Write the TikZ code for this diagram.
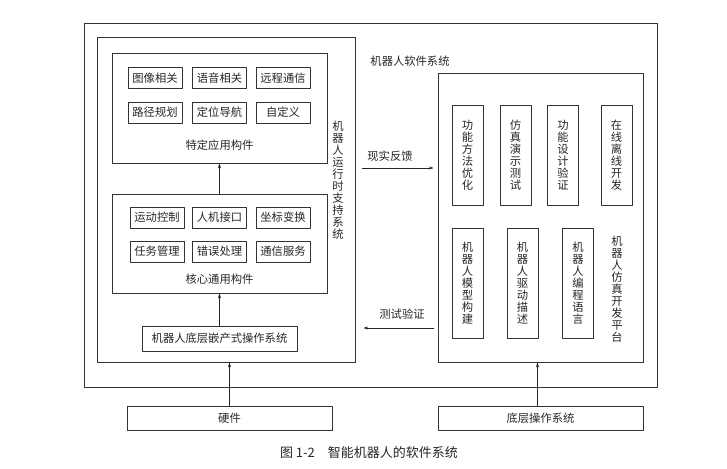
\documentclass[tikz,border=0pt]{standalone}
\usepackage{fontspec}
\newfontfamily\cjk{Noto Sans CJK SC}
\usetikzlibrary{arrows.meta}
\tikzset{
  every picture/.style={line join=round, >={Stealth[length=5pt,width=3pt]}},
  box/.style={draw=black!80, line width=0.6pt, inner sep=0pt},
  lbl/.style={font=\cjk\fontsize{11.3}{12}\selectfont, text=black!85},
  cell/.style={box, lbl, minimum width=54pt, minimum height=21pt},
  upcell/.style={box, lbl, align=center, minimum width=31pt, minimum height=100pt},
  lowcell/.style={box, lbl, align=center, minimum width=31pt, minimum height=110pt},
  base/.style={box, lbl, minimum width=205pt, minimum height=24pt},
  link/.style={->, draw=black!85, line width=0.6pt},
}

\begin{document}
\begin{tikzpicture}[x=1pt,y=-1pt]
\useasboundingbox (0,0) rectangle (727,468);
% software system
\node[box, minimum width=573pt, minimum height=364pt] (sys) at (370.5,205) {};
\node[lbl] (syslbl) at (410,61) {机器人软件系统};
% runtime support
\node[box, minimum width=258pt, minimum height=325pt] (runtime) at (226,199.5) {};
\node[lbl, align=center] (rtlbl) at (338,180) {机\\器\\人\\运\\行\\时\\支\\持\\系\\统};
\node[box, minimum width=215pt, minimum height=110pt] (spec) at (219.5,108) {};
\node[cell] (image) at (155,78) {图像相关};
\node[cell] (voice) at (219.5,78) {语音相关};
\node[cell] (remote) at (283,78) {远程通信};
\node[cell] (path) at (155,112.5) {路径规划};
\node[cell] (locate) at (219.5,112.5) {定位导航};
\node[cell] (custom) at (283,112.5) {自定义};
\node[lbl] (speclbl) at (219.5,145) {特定应用构件};
\node[box, minimum width=215pt, minimum height=99pt] (core) at (219.5,243.5) {};
\node[cell] (motion) at (157,217.5) {运动控制};
\node[cell] (hmi) at (219.5,217.5) {人机接口};
\node[cell] (coord) at (283,217.5) {坐标变换};
\node[cell] (task) at (157,251.5) {任务管理};
\node[cell] (error) at (219.5,251.5) {错误处理};
\node[cell] (comm) at (283,251.5) {通信服务};
\node[lbl] (corelbl) at (219.5,279) {核心通用构件};
\node[box, lbl, minimum width=155pt, minimum height=25pt] (os) at (219.5,338.5) {机器人底层嵌产式操作系统};
\draw[link] (core.north) -- (spec.south);
\draw[link] (os.north) -- (core.south);
% simulation platform
\node[box, minimum width=205pt, minimum height=289pt] (platform) at (540.5,217.5) {};
\node[upcell] (optim) at (467.5,155) {功\\能\\方\\法\\优\\化};
\node[upcell] (demo) at (515.5,155) {仿\\真\\演\\示\\测\\试};
\node[upcell] (verify) at (563,155) {功\\能\\设\\计\\验\\证};
\node[upcell] (online) at (616.5,155) {在\\线\\离\\线\\开\\发};
\node[lowcell] (model) at (467.5,283) {机\\器\\人\\模\\型\\构\\建};
\node[lowcell] (drive) at (522.5,283) {机\\器\\人\\驱\\动\\描\\述};
\node[lowcell] (lang) at (578,283) {机\\器\\人\\编\\程\\语\\言};
\node[lbl, align=center] (platlbl) at (617,289) {机\\器\\人\\仿\\真\\开\\发\\平\\台};
% between the two
\coordinate (fb) at (0,168);
\coordinate (tv) at (0,328);
\draw[link] ([xshift=7pt]runtime.east |- fb) -- ([xshift=-4pt]platform.west |- fb);
\node[lbl] (fblbl) at (390,156) {现实反馈};
\draw[link] ([xshift=-4pt]platform.west |- tv) -- ([xshift=8pt]runtime.east |- tv);
\node[lbl] (tvlbl) at (402,314) {测试验证};
% below
\node[base] (hw) at (229.5,418) {硬件};
\node[base] (bos) at (540.5,418.5) {底层操作系统};
\draw[link] (hw.north) -- (hw.north |- runtime.south);
\draw[link] ([xshift=-3pt]bos.north) -- ([xshift=-3pt]bos.north |- platform.south);
\node[lbl, font=\cjk\fontsize{13}{14}\selectfont] (caption) at (369,453) {图 1-2\quad 智能机器人的软件系统};
\end{tikzpicture}
\end{document}
